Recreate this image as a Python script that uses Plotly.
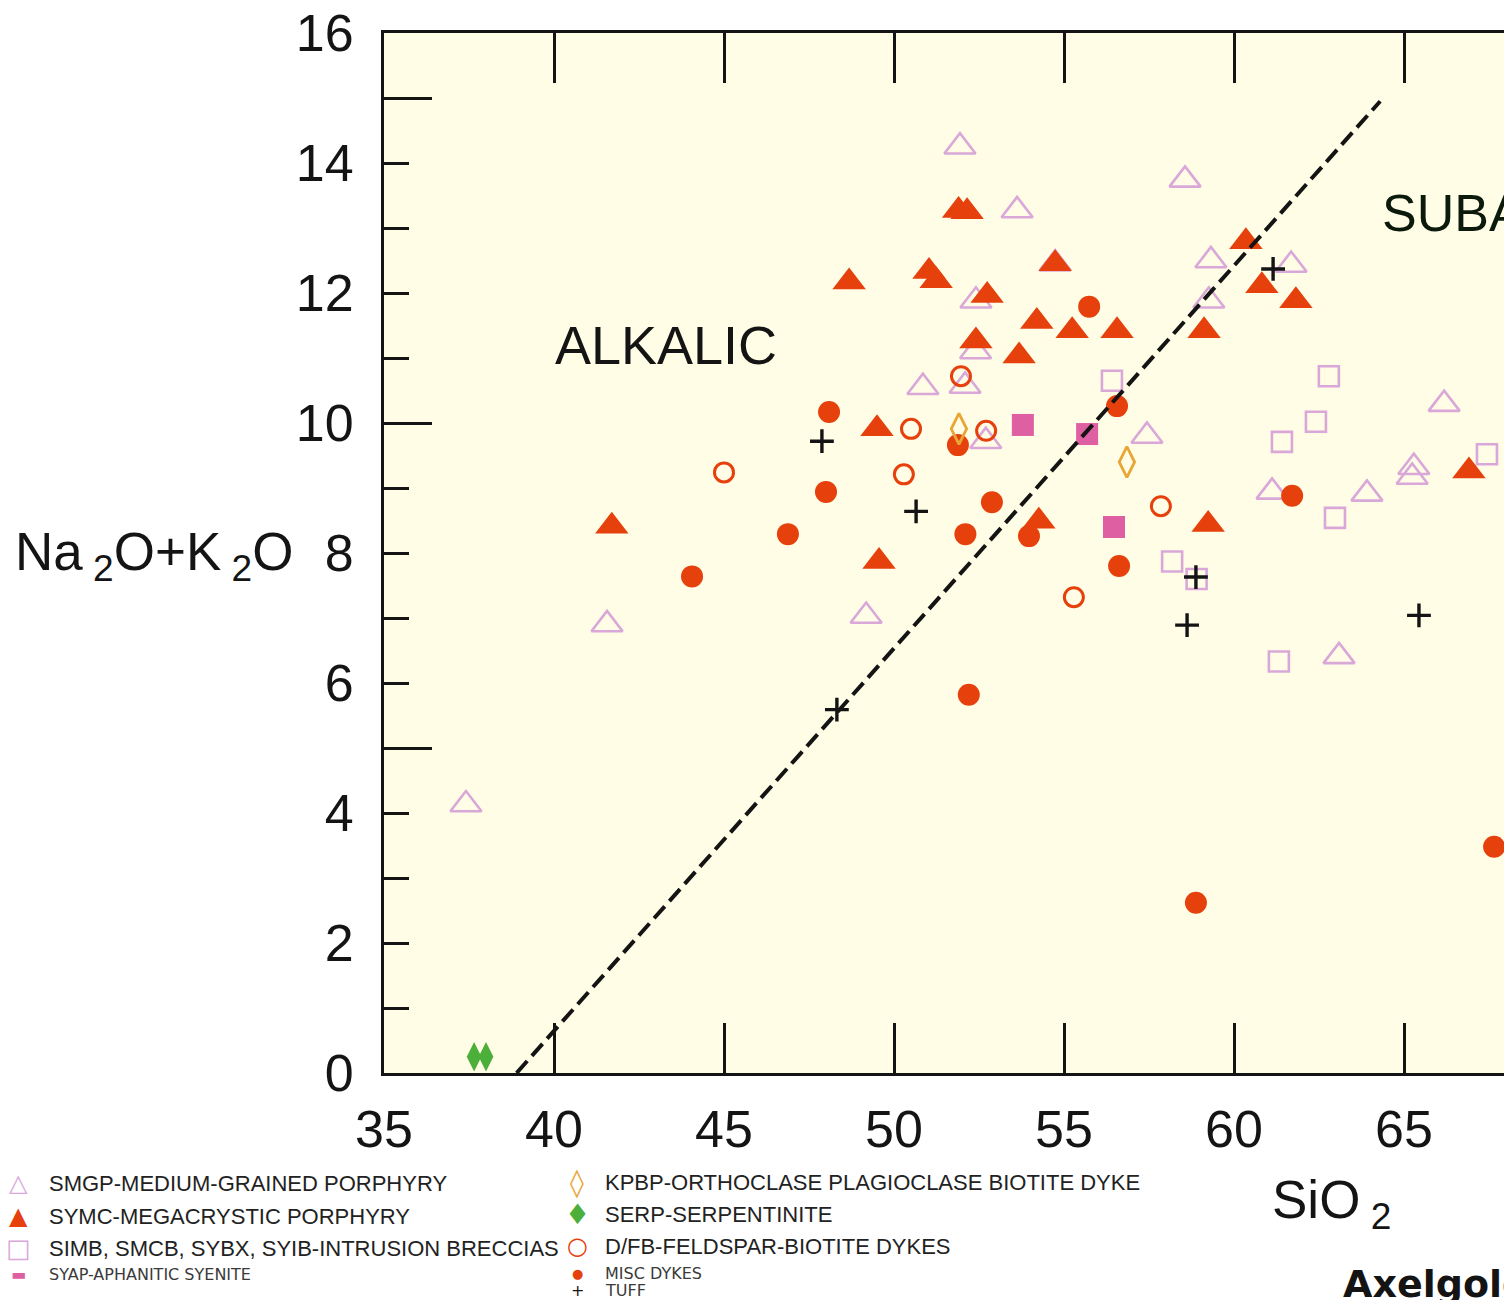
import plotly.graph_objects as go

# ---------------- data (SiO2 wt%, Na2O+K2O wt%) ----------------
smgp_x = [51.94, 58.56, 53.62, 54.74, 52.41, 52.40, 50.85, 52.09, 52.70, 57.44, 49.18,
          41.56, 37.41, 59.32, 61.68, 59.26, 66.18, 65.29, 65.24, 61.12, 63.91, 63.09]
smgp_y = [14.25, 13.74, 13.27, 12.45, 11.88, 11.10, 10.55, 10.57, 9.72, 9.80, 7.03,
          6.90, 4.13, 12.50, 12.43, 11.88, 10.29, 9.32, 9.17, 8.94, 8.91, 6.41]

symc_x = [51.90, 52.15, 48.68, 51.03, 51.24, 52.74, 54.20, 55.24, 56.56, 52.41, 53.68,
          49.50, 54.26, 49.56, 41.70, 60.35, 60.82, 61.82, 59.12, 66.91, 59.24, 54.74]
symc_y = [13.27, 13.25, 12.17, 12.33, 12.19, 11.96, 11.56, 11.42, 11.42, 11.26, 11.03,
          9.91, 8.49, 7.87, 8.41, 12.79, 12.11, 11.88, 11.42, 9.26, 8.44, 12.45]

simb_x = [56.41, 58.18, 58.90, 62.79, 62.41, 61.41, 67.44, 62.97, 61.32]
simb_y = [10.65, 7.87, 7.60, 10.72, 10.02, 9.71, 9.52, 8.54, 6.33]

syap_x = [53.79, 55.68, 56.47]
syap_y = [9.97, 9.83, 8.40]

kpbp_x = [51.91, 56.85]
kpbp_y = [9.91, 9.40]

serp_x = [37.65, 38.00]
serp_y = [0.25, 0.25]

dfb_x = [51.97, 50.50, 52.71, 50.29, 45.00, 57.85, 55.29]
dfb_y = [10.72, 9.91, 9.88, 9.21, 9.24, 8.72, 7.32]

misc_x = [55.74, 56.56, 48.09, 51.88, 52.88, 52.10, 53.97, 56.62, 48.00, 46.88, 44.06,
          52.20, 58.88, 67.65, 61.71]
misc_y = [11.79, 10.26, 10.17, 9.66, 8.78, 8.29, 8.26, 7.80, 8.94, 8.29, 7.64,
          5.82, 2.62, 3.48, 8.88]

tuff_x = [47.88, 50.65, 48.32, 61.15, 58.88, 58.62, 65.44]
tuff_y = [9.72, 8.64, 5.59, 12.37, 7.63, 6.89, 7.04]

# alkalic / subalkalic dividing line
div_x = [38.9, 64.3]
div_y = [0.0, 14.95]

x_ticks = [35, 40, 45, 50, 55, 60, 65]
y_labels = [0, 2, 4, 6, 8, 10, 12, 14, 16]
y_long_ticks = [5, 10, 15]

legend_left = ["SMGP-MEDIUM-GRAINED PORPHYRY", "SYMC-MEGACRYSTIC PORPHYRY",
               "SIMB, SMCB, SYBX, SYIB-INTRUSION BRECCIAS", "SYAP-APHANITIC SYENITE"]
legend_right = ["KPBP-ORTHOCLASE PLAGIOCLASE BIOTITE DYKE", "SERP-SERPENTINITE",
                "D/FB-FELDSPAR-BIOTITE DYKES", "MISC DYKES", "TUFF"]

# ---------------- styling ----------------
PINK = "#d9a8d9"
RED = "#e6400c"
MAGENTA = "#df5fa3"
GOLD = "#e8a636"
GREEN = "#4caf3a"
INK = "#141414"
BG = "#fffde6"

W, H = 1504, 1300
L, R, T, B = 384, 0, 33, 227
PW, PH = W - L - R, H - T - B
XMIN = 35
XMAX = XMIN + PW / 34.0


def px(xp):
    return (xp - L) / PW


def py(yp):
    return (H - B - yp) / PH


fig = go.Figure()

fig.add_trace(go.Scatter(x=smgp_x, y=smgp_y, mode="markers", name="SMGP",
                         marker=dict(symbol="triangle-up-open", size=27, color=PINK,
                                     line=dict(width=2.6, color=PINK))))
fig.add_trace(go.Scatter(x=simb_x, y=simb_y, mode="markers", name="SIMB",
                         marker=dict(symbol="square-open", size=20, color=PINK,
                                     line=dict(width=2.6, color=PINK))))
fig.add_trace(go.Scatter(x=syap_x, y=syap_y, mode="markers", name="SYAP",
                         marker=dict(symbol="square", size=22, color=MAGENTA,
                                     line=dict(width=0))))
fig.add_trace(go.Scatter(x=symc_x, y=symc_y, mode="markers", name="SYMC",
                         marker=dict(symbol="triangle-up", size=29, color=RED,
                                     line=dict(width=0))))
fig.add_trace(go.Scatter(x=misc_x, y=misc_y, mode="markers", name="MISC",
                         marker=dict(symbol="circle", size=22, color=RED,
                                     line=dict(width=0))))
fig.add_trace(go.Scatter(x=dfb_x, y=dfb_y, mode="markers", name="D/FB",
                         marker=dict(symbol="circle-open", size=19, color=RED,
                                     line=dict(width=3, color=RED))))
fig.add_trace(go.Scatter(x=kpbp_x, y=kpbp_y, mode="markers", name="KPBP",
                         marker=dict(symbol="diamond-tall-open", size=22, color=GOLD,
                                     line=dict(width=2.8, color=GOLD))))
fig.add_trace(go.Scatter(x=serp_x, y=serp_y, mode="markers", name="SERP", cliponaxis=False,
                         marker=dict(symbol="diamond-tall", size=21, color=GREEN,
                                     line=dict(width=0))))
fig.add_trace(go.Scatter(x=div_x, y=div_y, mode="lines", name="divide", yaxis="y2",
                         line=dict(color=INK, width=4, dash="16px,7px")))
fig.add_trace(go.Scatter(x=tuff_x, y=tuff_y, mode="markers", name="TUFF", yaxis="y2",
                         marker=dict(symbol="cross-thin", size=17, color=INK,
                                     line=dict(width=3.4, color=INK))))

TICKFONT = dict(family="Liberation Sans, Arial, sans-serif", size=52, color=INK)

fig.update_layout(
    width=W, height=H,
    margin=dict(l=L, r=R, t=T, b=B, pad=0),
    paper_bgcolor="white",
    plot_bgcolor=BG,
    showlegend=False,
    xaxis=dict(range=[XMIN, XMAX], tickvals=x_ticks, ticks="inside", ticklen=50,
               tickwidth=3, tickcolor=INK, showline=True, linewidth=3, linecolor=INK,
               mirror="ticks", showgrid=False, zeroline=False, tickfont=TICKFONT,
               ticklabelstandoff=9, automargin=False),
    yaxis=dict(range=[0, 16], tickvals=y_labels, ticks="inside", ticklen=25,
               tickwidth=3, tickcolor=INK, showline=True, linewidth=3, linecolor=INK,
               showgrid=False, zeroline=False, tickfont=TICKFONT,
               ticklabelstandoff=17, automargin=False,
               minor=dict(dtick=1, ticks="inside", ticklen=25, tickwidth=3,
                          tickcolor=INK, showgrid=False)),
    yaxis2=dict(range=[0, 16], overlaying="y", side="left", tickvals=y_long_ticks,
                ticks="inside", ticklen=48, tickwidth=3, tickcolor=INK,
                showticklabels=False, showline=False, showgrid=False, zeroline=False,
                automargin=False),
)

ann = []
BIG = dict(family="Liberation Sans, Arial, sans-serif", size=53, color=INK)
ann.append(dict(text="Na<sub> 2</sub>O+K<sub> 2</sub>O", x=px(13), y=py(555), xref="paper",
                yref="paper", xanchor="left", yanchor="middle", showarrow=False, font=BIG))
ann.append(dict(text="SiO<sub> 2</sub>", x=px(1270), y=py(1203), xref="paper",
                yref="paper", xanchor="left", yanchor="middle", showarrow=False, font=BIG))
ann.append(dict(text="ALKALIC", x=43.3, y=11.2, xref="x", yref="y",
                xanchor="center", yanchor="middle", showarrow=False,
                font=dict(family="Liberation Sans, Arial, sans-serif", size=54, color=INK)))
ann.append(dict(text="SUBALKALIC", x=px(1380), y=py(213), xref="paper", yref="paper",
                xanchor="left", yanchor="middle", showarrow=False,
                font=dict(family="Liberation Sans, Arial, sans-serif", size=52, color="#0c1a0c")))
ann.append(dict(text="<b>Axelgold</b>", x=px(1341), y=py(1284), xref="paper", yref="paper",
                xanchor="left", yanchor="middle", showarrow=False,
                font=dict(family="DejaVu Sans, sans-serif", size=38, color=INK)))

LEGFONT = dict(family="Liberation Sans, Arial, sans-serif", size=22, color="#222222")
SMALLFONT = dict(family="DejaVu Sans, sans-serif", size=16, color="#3a3a3a")
SYMFONT = "DejaVu Sans, sans-serif"

left_rows = [1183, 1216, 1248, 1274]
right_rows = [1182, 1214, 1246, 1273, 1290]
left_syms = [("△", PINK, 24), ("▲", RED, 24), ("□", PINK, 26), ("▬", MAGENTA, 16)]
right_syms = [("◊", GOLD, 28), ("♦", GREEN, 28), ("○", RED, 24), ("●", RED, 13), ("+", INK, 16)]

for i, txt in enumerate(legend_left):
    f = LEGFONT if i < 3 else SMALLFONT
    ann.append(dict(text=txt, x=px(47), y=py(left_rows[i]), xref="paper", yref="paper",
                    xanchor="left", yanchor="middle", showarrow=False, font=f))
    s, c, sz = left_syms[i]
    ann.append(dict(text=s, x=px(18), y=py(left_rows[i]), xref="paper", yref="paper",
                    xanchor="center", yanchor="middle", showarrow=False,
                    font=dict(family=SYMFONT, size=sz, color=c)))

for i, txt in enumerate(legend_right):
    f = LEGFONT if i < 3 else SMALLFONT
    ann.append(dict(text=txt, x=px(603), y=py(right_rows[i]), xref="paper", yref="paper",
                    xanchor="left", yanchor="middle", showarrow=False, font=f))
    s, c, sz = right_syms[i]
    ann.append(dict(text=s, x=px(577), y=py(right_rows[i]), xref="paper", yref="paper",
                    xanchor="center", yanchor="middle", showarrow=False,
                    font=dict(family=SYMFONT, size=sz, color=c)))

fig.update_layout(annotations=ann)

fig.write_html("out.html")
